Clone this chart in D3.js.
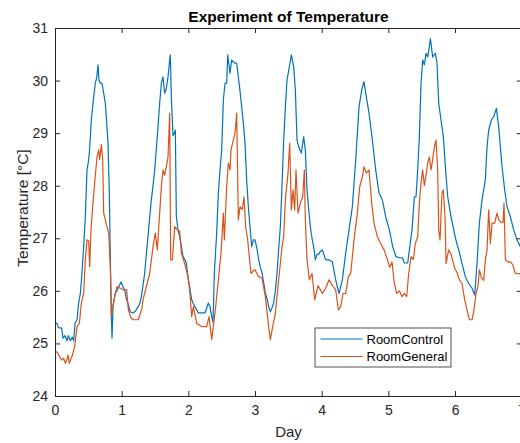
<!DOCTYPE html>
<html>
<head>
<meta charset="utf-8">
<script src="https://cdn.jsdelivr.net/npm/d3@7"></script>
<style>
  body { margin: 0; background: #fff; }
  svg { display: block; font-family: "Liberation Sans", Arial, sans-serif; }
  .axis path, .axis line { stroke: #262626; }
  .axis text { fill: #262626; font-size: 14px; }
</style>
</head>
<body>
<svg id="chart" width="520" height="443"></svg>
<script>
const xTicks = [0, 1, 2, 3, 4, 5, 6, 7];
const yTicks = [24, 25, 26, 27, 28, 29, 30, 31];
const seriesNames = ["RoomControl", "RoomGeneral"];
const seriesColors = ["#0072BD", "#D95319"];

// RoomControl
const controlDays = [
  0.00, 0.03, 0.05, 0.10, 0.12, 0.15, 0.18, 0.20, 0.23, 0.26, 0.28, 0.30, 0.33, 0.355, 0.38, 0.405,
  0.43, 0.455, 0.48, 0.50, 0.515, 0.545, 0.58, 0.605, 0.625, 0.645, 0.66, 0.68, 0.705, 0.73, 0.755,
  0.775, 0.795, 0.815, 0.83, 0.845, 0.855, 0.87, 0.89, 0.905, 0.93, 0.955, 0.99, 1.02, 1.045, 1.07,
  1.095, 1.13, 1.17, 1.21, 1.245, 1.27, 1.295, 1.32, 1.345, 1.37, 1.395, 1.42, 1.445, 1.47, 1.495,
  1.52, 1.545, 1.57, 1.595, 1.62, 1.645, 1.67, 1.695, 1.72, 1.73, 1.745, 1.77, 1.79, 1.805, 1.82,
  1.845, 1.87, 1.895, 1.92, 1.945, 1.97, 2.00, 2.02, 2.05, 2.075, 2.10, 2.15, 2.20, 2.25, 2.30,
  2.325, 2.35, 2.37, 2.39, 2.425, 2.45, 2.475, 2.50, 2.525, 2.55, 2.575, 2.59, 2.625, 2.65, 2.70,
  2.725, 2.75, 2.775, 2.80, 2.825, 2.85, 2.875, 2.90, 2.925, 2.95, 2.975, 3.00, 3.03, 3.055, 3.08,
  3.105, 3.13, 3.155, 3.18, 3.205, 3.23, 3.255, 3.28, 3.305, 3.33, 3.355, 3.38, 3.405, 3.43, 3.455,
  3.48, 3.515, 3.545, 3.58, 3.605, 3.63, 3.655, 3.695, 3.73, 3.755, 3.78, 3.805, 3.83, 3.855, 3.88,
  3.905, 3.93, 3.955, 3.98, 4.01, 4.06, 4.11, 4.16, 4.21, 4.26, 4.31, 4.36, 4.41, 4.46, 4.51, 4.56,
  4.60, 4.635, 4.66, 4.71, 4.76, 4.81, 4.86, 4.91, 4.96, 5.015, 5.065, 5.115, 5.165, 5.21, 5.24,
  5.29, 5.315, 5.355, 5.39, 5.415, 5.44, 5.465, 5.49, 5.515, 5.54, 5.565, 5.59, 5.61, 5.63, 5.665,
  5.705, 5.73, 5.755, 5.79, 5.825, 5.855, 5.89, 5.94, 5.99, 6.025, 6.055, 6.105, 6.155, 6.205, 6.255,
  6.295, 6.33, 6.365, 6.405, 6.455, 6.48, 6.505, 6.545, 6.58, 6.62, 6.655, 6.705, 6.745, 6.78, 6.83,
  6.88, 6.93, 6.98, 7.00
];
const controlTemps = [
  25.38, 25.38, 25.30, 25.29, 25.10, 25.15, 25.05, 25.15, 25.05, 25.12, 25.05, 25.38, 25.45, 25.77, 25.95, 26.34,
  26.84, 27.41, 28.30, 28.45, 28.62, 29.25, 29.69, 29.95, 30.05, 30.30, 30.00, 29.95, 29.95, 29.76, 29.57,
  29.20, 28.81, 27.86, 26.59, 25.58, 25.10, 25.70, 25.85, 25.96, 26.00, 26.08, 26.17, 26.08, 26.02, 25.85,
  25.76, 25.60, 25.58, 25.62, 25.70, 25.75, 25.89, 26.10, 26.34, 26.70, 27.03, 27.40, 27.73, 28.00, 28.30,
  28.70, 29.12, 29.57, 29.95, 30.07, 29.76, 29.85, 30.07, 30.39, 30.49, 29.69, 28.95, 29.00, 29.06, 27.41,
  27.16, 27.03, 26.85, 26.65, 26.60, 26.53, 26.21, 26.08, 25.83, 25.75, 25.70, 25.58, 25.58, 25.58, 25.77,
  25.70, 25.51, 25.40, 26.34, 27.10, 27.86, 28.30, 28.68, 29.63, 29.95, 29.95, 30.49, 30.14, 30.39, 30.33,
  30.33, 30.07, 29.80, 29.50, 29.19, 28.81, 28.11, 27.60, 27.22, 26.84, 26.97, 26.97, 26.80, 26.59, 26.45,
  26.34, 26.15, 25.96, 25.85, 25.70, 25.60, 25.68, 25.77, 26.00, 26.34, 26.80, 27.22, 28.00, 28.87, 29.50,
  30.01, 30.26, 30.49, 30.26, 29.82, 28.87, 28.74, 28.62, 28.93, 28.68, 27.92, 27.55, 27.22, 27.00, 26.84,
  26.59, 26.70, 26.70, 26.75, 26.78, 26.59, 26.59, 26.55, 26.21, 25.95, 26.21, 26.72, 27.16, 27.60, 28.49, 29.50,
  29.82, 29.98, 29.76, 29.38, 28.87, 28.30, 27.86, 27.73, 27.41, 27.16, 26.84, 26.65, 26.63, 26.63, 26.53,
  26.53, 26.78, 27.16, 27.79, 27.79, 28.30, 28.93, 29.95, 30.39, 30.30, 30.52, 30.45, 30.60, 30.80, 30.45,
  30.52, 30.33, 29.57, 29.25, 28.93, 28.36, 27.79, 27.41, 27.10, 26.91, 26.78, 26.52, 26.27, 26.14, 26.05,
  25.92, 26.52, 27.29, 27.73, 28.11, 28.74, 29.06, 29.25, 29.31, 29.47, 29.12, 28.36, 27.92, 27.60, 27.41,
  27.16, 26.97, 26.84, 26.82
];

// RoomGeneral
const generalDays = [
  0.00, 0.03, 0.055, 0.08, 0.105, 0.13, 0.155, 0.18, 0.195, 0.215, 0.235, 0.255, 0.275, 0.295, 0.33,
  0.365, 0.395, 0.43, 0.455, 0.48, 0.505, 0.52, 0.54, 0.565, 0.595, 0.63, 0.655, 0.67, 0.695, 0.715,
  0.73, 0.755, 0.78, 0.805, 0.83, 0.845, 0.865, 0.895, 0.93, 0.98, 1.02, 1.075, 1.10, 1.135, 1.175,
  1.25, 1.30, 1.32, 1.37, 1.42, 1.47, 1.505, 1.535, 1.57, 1.595, 1.62, 1.645, 1.67, 1.695, 1.72,
  1.735, 1.76, 1.795, 1.835, 1.87, 1.895, 1.945, 1.995, 2.02, 2.05, 2.075, 2.125, 2.20, 2.275, 2.31,
  2.35, 2.375, 2.41, 2.45, 2.49, 2.525, 2.54, 2.575, 2.60, 2.625, 2.64, 2.675, 2.70, 2.725, 2.75,
  2.775, 2.81, 2.835, 2.86, 2.89, 2.915, 2.94, 2.975, 3.00, 3.055, 3.105, 3.155, 3.205, 3.23, 3.265,
  3.305, 3.355, 3.405, 3.43, 3.455, 3.495, 3.52, 3.545, 3.57, 3.595, 3.615, 3.645, 3.68, 3.715, 3.74,
  3.755, 3.78, 3.815, 3.855, 3.895, 3.945, 4.01, 4.06, 4.11, 4.16, 4.21, 4.25, 4.285, 4.32, 4.36,
  4.40, 4.435, 4.485, 4.535, 4.57, 4.61, 4.635, 4.67, 4.71, 4.75, 4.785, 4.835, 4.885, 4.935, 4.985,
  5.02, 5.055, 5.09, 5.125, 5.165, 5.205, 5.24, 5.275, 5.305, 5.34, 5.375, 5.405, 5.44, 5.465, 5.49,
  5.515, 5.54, 5.565, 5.59, 5.615, 5.64, 5.665, 5.69, 5.715, 5.74, 5.755, 5.775, 5.805, 5.825, 5.85,
  5.865, 5.905, 5.94, 5.99, 6.03, 6.065, 6.105, 6.145, 6.18, 6.215, 6.255, 6.28, 6.315, 6.345, 6.365,
  6.395, 6.43, 6.455, 6.48, 6.505, 6.53, 6.555, 6.595, 6.63, 6.655, 6.695, 6.72, 6.735, 6.755, 6.795,
  6.83, 6.865, 6.905, 6.955, 7.00
];
const generalTemps = [
  24.84, 24.84, 24.78, 24.72, 24.68, 24.72, 24.62, 24.70, 24.78, 24.62, 24.70, 24.75, 24.85, 24.94, 25.32,
  25.38, 25.76, 25.95, 26.59, 26.97, 26.95, 26.46, 27.16, 27.60, 28.05, 28.55, 28.68, 28.50, 28.78, 28.50,
  27.48, 27.35, 27.22, 27.10, 26.46, 25.51, 25.70, 25.89, 26.08, 26.05, 26.02, 26.02, 25.64, 25.50, 25.45,
  25.45, 25.64, 25.83, 26.08, 26.33, 26.84, 27.10, 26.78, 27.48, 27.98, 28.30, 28.20, 28.36, 28.55, 29.38,
  26.59, 26.59, 27.22, 27.16, 27.14, 26.72, 26.52, 26.27, 26.02, 25.51, 25.70, 25.38, 25.32, 25.32, 25.51,
  25.07, 25.32, 25.70, 26.21, 26.72, 27.48, 26.97, 27.98, 28.43, 28.30, 28.68, 28.87, 29.00, 29.38, 27.35,
  27.60, 27.55, 27.79, 27.22, 26.97, 26.65, 26.33, 26.38, 26.40, 26.27, 26.24, 25.89, 25.32, 25.07, 25.32,
  25.57, 26.21, 26.84, 27.03, 27.73, 28.24, 28.81, 27.54, 27.92, 27.54, 28.30, 27.48, 27.67, 27.79, 28.30,
  27.35, 26.59, 26.21, 26.33, 25.83, 26.10, 25.95, 26.05, 26.21, 26.10, 26.02, 25.64, 25.70, 25.95, 25.95,
  26.27, 26.33, 26.97, 27.48, 27.98, 28.17, 28.36, 28.24, 28.30, 27.67, 27.29, 27.03, 26.90, 26.78, 26.60,
  26.45, 26.55, 26.14, 25.95, 26.00, 25.89, 25.95, 25.89, 26.33, 26.65, 26.60, 26.90, 27.03, 27.67, 28.05,
  28.30, 28.00, 28.20, 28.43, 28.55, 28.30, 28.50, 28.74, 28.87, 28.30, 27.16, 26.97, 27.86, 27.92, 27.41,
  26.52, 26.78, 26.70, 26.45, 26.35, 26.21, 26.14, 25.83, 25.64, 25.45, 25.45, 25.60, 25.95, 26.10, 26.40,
  26.25, 26.20, 26.59, 26.78, 27.54, 26.90, 27.29, 27.29, 27.48, 27.35, 27.30, 27.30, 27.67, 26.59, 26.55,
  26.55, 26.50, 26.33, 26.33, 26.30
];

const svg = d3.select("#chart");
const plotLeft = 55, plotRight = 521.7, plotTop = 28, plotBottom = 396;

const x = d3.scaleLinear().domain([0, 7]).range([plotLeft, plotRight]);
const y = d3.scaleLinear().domain([24, 31]).range([plotBottom, plotTop]);

svg.append("defs").append("clipPath").attr("id", "plotClip")
  .append("rect")
  .attr("x", plotLeft).attr("y", plotTop)
  .attr("width", plotRight - plotLeft).attr("height", plotBottom - plotTop);

const series = [
  { name: seriesNames[0], color: seriesColors[0], days: controlDays, temps: controlTemps },
  { name: seriesNames[1], color: seriesColors[1], days: generalDays, temps: generalTemps }
];

const line = d3.line()
  .x(d => x(d[0]))
  .y(d => y(d[1]));

svg.append("g")
  .attr("clip-path", "url(#plotClip)")
  .selectAll("path")
  .data(series)
  .join("path")
  .attr("fill", "none")
  .attr("stroke", d => d.color)
  .attr("stroke-width", 1.2)
  .attr("stroke-linejoin", "round")
  .attr("d", d => line(d.days.map((t, i) => [t, d.temps[i]])));

// axes, MATLAB style: box on, ticks pointing in
const tick = 5;

svg.append("g")
  .attr("class", "axis")
  .attr("transform", `translate(0,${plotBottom})`)
  .call(d3.axisBottom(x).tickValues(xTicks).tickFormat(d3.format("d"))
    .tickSizeInner(-tick).tickSizeOuter(0).tickPadding(9));

svg.append("g")
  .attr("class", "axis")
  .attr("transform", `translate(0,${plotTop})`)
  .call(d3.axisTop(x).tickValues(xTicks).tickFormat("")
    .tickSizeInner(-tick).tickSizeOuter(0));

svg.append("g")
  .attr("class", "axis")
  .attr("transform", `translate(${plotLeft},0)`)
  .call(d3.axisLeft(y).tickValues(yTicks).tickFormat(d3.format("d"))
    .tickSizeInner(-tick).tickSizeOuter(0).tickPadding(7));

svg.append("g")
  .attr("class", "axis")
  .attr("transform", `translate(${plotRight},0)`)
  .call(d3.axisRight(y).tickValues(yTicks).tickFormat("")
    .tickSizeInner(-tick).tickSizeOuter(0));

// labels
svg.append("text")
  .attr("x", 288.5).attr("y", 22)
  .attr("text-anchor", "middle")
  .attr("font-size", 15.5).attr("font-weight", "bold")
  .attr("fill", "#000")
  .text("Experiment of Temperature");

svg.append("text")
  .attr("x", 288.5).attr("y", 437)
  .attr("text-anchor", "middle")
  .attr("font-size", 15)
  .attr("fill", "#262626")
  .text("Day");

svg.append("text")
  .attr("transform", "translate(28,208) rotate(-90)")
  .attr("text-anchor", "middle")
  .attr("font-size", 15.5)
  .attr("fill", "#262626")
  .text("Temperature [°C]");

// legend
const legend = svg.append("g").attr("transform", "translate(315,328)");
legend.append("rect")
  .attr("width", 136).attr("height", 39)
  .attr("fill", "#fff")
  .attr("stroke", "#262626").attr("stroke-width", 0.8);

const item = legend.selectAll("g.item")
  .data(series)
  .join("g")
  .attr("class", "item")
  .attr("transform", (d, i) => `translate(0,${11 + i * 17.5})`);

item.append("line")
  .attr("x1", 5.5).attr("x2", 47.5)
  .attr("stroke", d => d.color)
  .attr("stroke-width", 1.2);

item.append("text")
  .attr("x", 51.5).attr("dy", "0.35em")
  .attr("font-size", 13)
  .attr("fill", "#000")
  .text(d => d.name);
</script>
</body>
</html>
